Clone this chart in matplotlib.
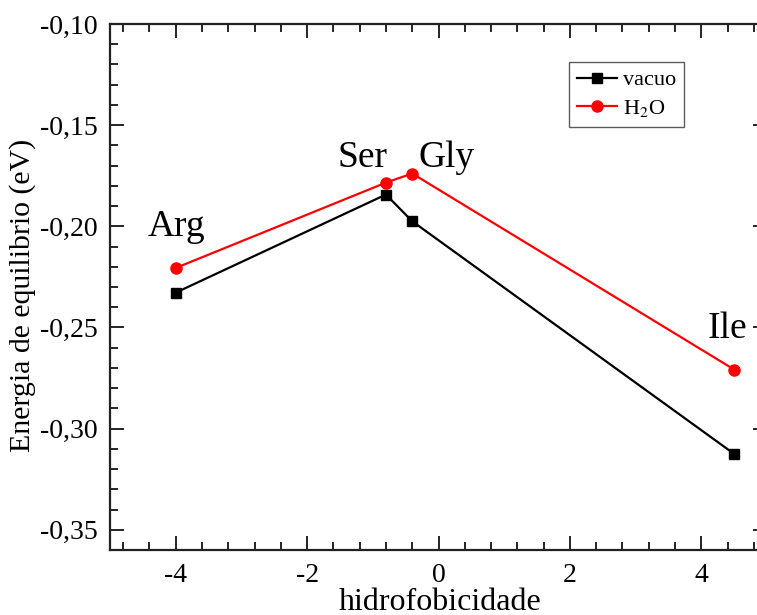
import numpy as np
import matplotlib
matplotlib.use('Agg')
import matplotlib.pyplot as plt
from matplotlib.ticker import MultipleLocator, AutoMinorLocator, FuncFormatter

# dados (hidrofobicidade x energia de equilibrio)
nomes = ['Arg', 'Ser', 'Gly', 'Ile']
hidro = [-4.0, -0.8, -0.4, 4.5]
e_vacuo = [-0.2328, -0.1843, -0.1975, -0.3125]
e_h2o = [-0.2206, -0.1784, -0.1739, -0.2708]
# posicao dos rotulos (x, y em coordenadas de dados)
rot_x = [-4.43, -1.54, -0.30, 4.10]
rot_y = [-0.2050, -0.1707, -0.1707, -0.2550]

plt.rcParams['font.family'] = ['Liberation Serif', 'DejaVu Serif']
plt.rcParams['mathtext.fontset'] = 'stix'

fig = plt.figure(figsize=(7.57, 6.15), dpi=100)
ax = fig.add_axes([110/757, 65/615, 657/757, 526/615])

ax.plot(hidro, e_vacuo, color='black', lw=1.6, marker='s', ms=7, label='vacuo')
ax.plot(hidro, e_h2o, color='red', lw=1.6, marker='o', ms=8, label=r'H$_2$O')

for n, tx, ty in zip(nomes, rot_x, rot_y):
    ax.text(tx, ty, n, fontsize=27, ha='left', va='baseline')

ax.set_xlim(-5, 5)
ax.set_ylim(-0.36, -0.10)
ax.xaxis.set_major_locator(MultipleLocator(2))
ax.xaxis.set_minor_locator(AutoMinorLocator(5))
ax.yaxis.set_major_locator(MultipleLocator(0.05))
ax.yaxis.set_minor_locator(AutoMinorLocator(5))
ax.yaxis.set_major_formatter(FuncFormatter(lambda v, p: ('%.2f' % v).replace('.', ',')))
ax.xaxis.set_major_formatter(FuncFormatter(lambda v, p: '%d' % round(v)))

ax.tick_params(which='both', direction='in', top=True, right=True, width=1.2, labelsize=20)
ax.tick_params(which='major', length=10, pad=9)
ax.tick_params(which='minor', length=5.5)
for s in ax.spines.values():
    s.set_linewidth(1.6)
    s.set_color('#222222')

ax.set_xlabel('hidrofobicidade', fontsize=23)
ax.xaxis.set_label_coords(0.502, -0.072)
ax.set_ylabel('Energia de equilibrio (eV)', fontsize=21.5)
ax.yaxis.set_label_coords(-0.113, 0.485)

leg = ax.legend(loc='upper left', bbox_to_anchor=(569/757, 1 - 62/615), bbox_transform=fig.transFigure,
                fontsize=16, frameon=True, fancybox=False, handlelength=1.8, handletextpad=0.3,
                borderpad=0.35, labelspacing=0.35, borderaxespad=0)
leg.get_frame().set_edgecolor('#333333')
leg.get_frame().set_linewidth(1.0)

plt.savefig('out.png', dpi=100)
print('job done')
